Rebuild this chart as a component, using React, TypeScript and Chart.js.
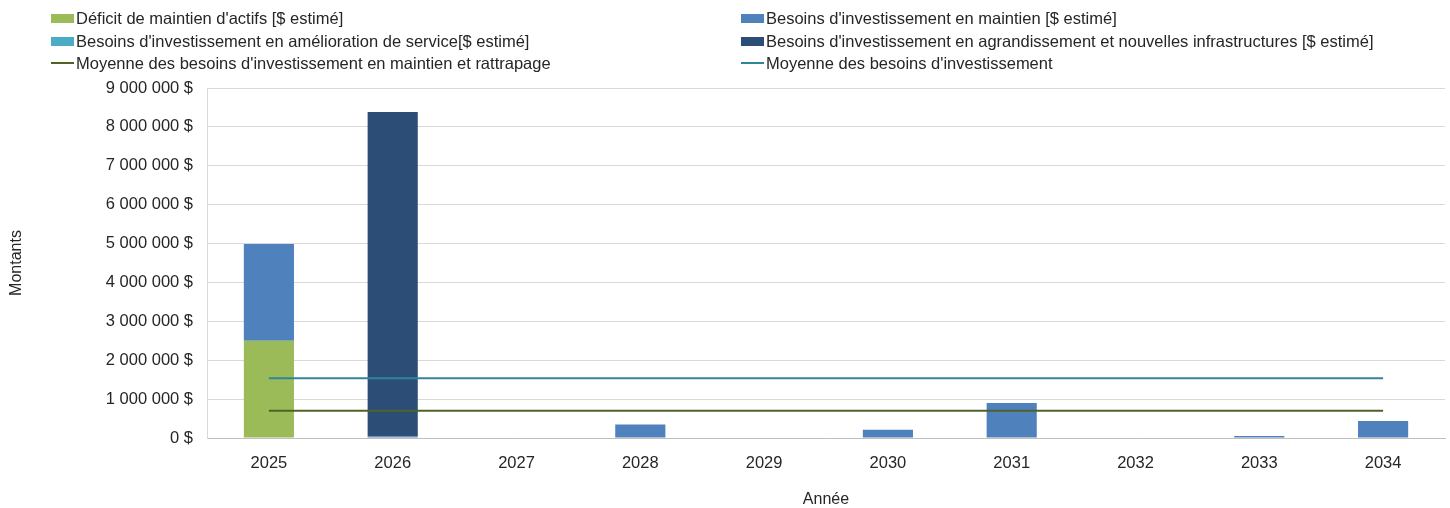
import React, { useEffect, useRef } from "react";
import { Chart, registerables } from "chart.js";

Chart.register(...registerables);

const years = ["2025", "2026", "2027", "2028", "2029", "2030", "2031", "2032", "2033", "2034"];
const deficitMaintien = [2500000, 0, 0, 0, 0, 0, 0, 0, 0, 0];
const besoinsMaintien = [2490000, 40000, 0, 350000, 15000, 210000, 900000, 0, 50000, 440000];
const besoinsAmelioration = [0, 0, 0, 0, 0, 0, 0, 0, 0, 0];
const besoinsAgrandissement = [0, 8340000, 0, 0, 0, 0, 0, 0, 0, 0];
const moyenneMaintienRattrapage = [700000, 700000, 700000, 700000, 700000, 700000, 700000, 700000, 700000, 700000];
const moyenneInvestissement = [1535000, 1535000, 1535000, 1535000, 1535000, 1535000, 1535000, 1535000, 1535000, 1535000];

const labels = [
  "Déficit de maintien d'actifs [$ estimé]",
  "Besoins d'investissement en maintien [$ estimé]",
  "Besoins d'investissement en amélioration de service[$ estimé]",
  "Besoins d'investissement en agrandissement et nouvelles infrastructures [$ estimé]",
  "Moyenne des besoins d'investissement en maintien et rattrapage",
  "Moyenne des besoins d'investissement",
];
const colors = ["#9BBB59", "#4F81BD", "#4BACC6", "#2C4D75", "#4F6228", "#31849B"];
const kinds = ["bar", "bar", "bar", "bar", "line", "line"];

const FONT = "'Liberation Sans', Arial, sans-serif";
const TEXT = "#262626";

function fmt(v: number): string {
  return String(Math.round(v)).replace(/\B(?=(\d{3})+(?!\d))/g, " ") + " $";
}

export default function App() {
  const ref = useRef<HTMLCanvasElement | null>(null);

  useEffect(() => {
    if (!ref.current) return;
    const barData = [deficitMaintien, besoinsMaintien, besoinsAmelioration, besoinsAgrandissement];
    const lineData = [moyenneMaintienRattrapage, moyenneInvestissement];
    const datasets: any[] = [];
    barData.forEach((d, i) => {
      datasets.push({
        type: "bar",
        label: labels[i],
        data: d,
        backgroundColor: colors[i],
        borderWidth: 0,
        stack: "bars",
        order: 2,
        barPercentage: 0.405,
        categoryPercentage: 1,
      });
    });
    lineData.forEach((d, j) => {
      const i = j + 4;
      datasets.push({
        type: "line",
        label: labels[i],
        data: d,
        borderColor: colors[i],
        backgroundColor: colors[i],
        borderWidth: 2,
        pointRadius: 0,
        pointHoverRadius: 0,
        fill: false,
        stack: "line" + j,
        order: 0,
      });
    });

    const chart = new Chart(ref.current, {
      type: "bar",
      data: { labels: years, datasets },
      options: {
        animation: false,
        responsive: false,
        maintainAspectRatio: false,
        layout: { padding: { top: 88, right: 5, left: 0, bottom: 0 } },
        plugins: {
          legend: { display: false },
          tooltip: { enabled: false },
        },
        scales: {
          x: {
            stacked: true,
            grid: { display: false, drawTicks: false },
            border: { display: true, color: "#BFBFBF", width: 1 },
            ticks: { color: TEXT, font: { family: FONT, size: 16.5 }, padding: 16 },
            title: {
              display: true,
              text: "Année",
              color: TEXT,
              font: { family: FONT, size: 16, lineHeight: 1 },
              padding: { top: 0, bottom: 0 },
            },
            afterFit: (s: any) => {
              s.height = 70;
            },
          },
          y: {
            stacked: true,
            min: 0,
            max: 9000000,
            ticks: {
              stepSize: 1000000,
              color: TEXT,
              font: { family: FONT, size: 16.5 },
              padding: 14,
              callback: (v: any) => fmt(Number(v)),
            },
            grid: { color: "#D9D9D9", drawTicks: false, lineWidth: 1 },
            border: { display: true, color: "#D9D9D9" },
            title: {
              display: true,
              text: "Montants",
              color: TEXT,
              font: { family: FONT, size: 16 },
              padding: { top: 7, bottom: 0 },
            },
            afterFit: (s: any) => {
              s.width = 207;
            },
          },
        },
      },
    });
    return () => chart.destroy();
  }, []);

  const legendRows = [0, 1, 2];
  const rowCenters = [18, 41, 63];
  return (
    <div style={{ position: "absolute", left: 0, top: 0, width: 1450, height: 508, background: "#fff" }}>
      <canvas ref={ref} width={1450} height={508} style={{ position: "absolute", left: 0, top: 0, width: 1450, height: 508 }} />
      {legendRows.map((r) =>
        [0, 1].map((c) => {
          const i = r * 2 + c;
          const isLine = kinds[i] === "line";
          return (
            <div
              key={i}
              style={{
                position: "absolute",
                left: c === 0 ? 51 : 741,
                top: rowCenters[r] - 11,
                height: 22,
                display: "flex",
                alignItems: "center",
                fontFamily: FONT,
                fontSize: 16.5,
                color: TEXT,
                whiteSpace: "nowrap",
              }}
            >
              <span
                style={{
                  display: "inline-block",
                  width: 23,
                  height: isLine ? 2 : 9,
                  background: colors[i],
                  marginRight: 2,
                }}
              />
              <span>{labels[i]}</span>
            </div>
          );
        })
      )}
    </div>
  );
}
